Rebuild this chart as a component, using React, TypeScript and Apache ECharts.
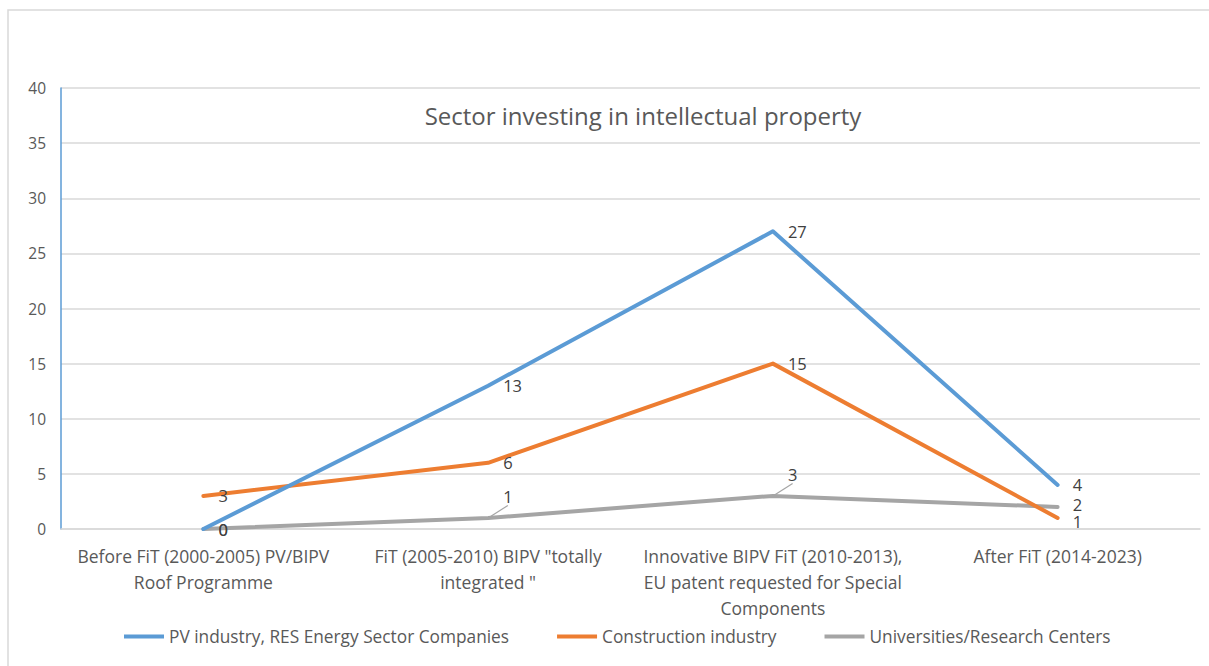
import React, { useEffect, useRef } from "react";
import * as echarts from "echarts";

const categories = [
  'Before FiT (2000-2005) PV/BIPV\nRoof Programme',
  'FiT (2005-2010) BIPV "totally\nintegrated "',
  'Innovative BIPV FiT (2010-2013),\nEU patent requested for Special\nComponents',
  'After FiT (2014-2023)',
];
const pvIndustry = [0, 13, 27, 4];
const construction = [3, 6, 15, 1];
const universities = [0, 1, 3, 2];
const seriesNames = [
  "PV industry, RES Energy Sector Companies",
  "Construction industry",
  "Universities/Research Centers",
];
const colors = ["#5b9bd5", "#ed7d31", "#a5a5a5"];
const titleText = "Sector investing in intellectual property";

const FONT = "'Open Sans', 'Noto Sans', sans-serif";

export default function App() {
  const ref = useRef<HTMLDivElement>(null);
  useEffect(() => {
    if (!ref.current) return;
    const chart = echarts.init(ref.current, undefined, { renderer: "svg" });
    const labelStyle = {
      show: true,
      position: "right" as const,
      distance: 14,
      color: "#404040",
      fontSize: 16.5,
      lineHeight: 14,
      fontFamily: FONT,
    };
    const mk = (i: number, data: any[]) => ({
      name: seriesNames[i],
      type: "line",
      data,
      symbol: "circle",
      symbolSize: 2,
      showSymbol: true,
      color: colors[i],
      itemStyle: { color: "rgba(0,0,0,0)", borderWidth: 0 },
      lineStyle: { width: 4, color: colors[i], cap: "round", join: "round" },
      label: labelStyle,
      z: 3 - i,
    });
    const uniData = universities.map((v, i) => ({
      value: v,
      labelLine: {
        show: i === 1 || i === 2,
        lineStyle: { color: colors[2], width: 1.2 },
      },
    }));
    chart.setOption({
      animation: false,
      textStyle: { fontFamily: FONT },
      graphic: [
        {
          type: "rect",
          shape: { x: 8, y: 10, width: 1400, height: 800 },
          style: { fill: "none", stroke: "#d9d9d9", lineWidth: 1.5 },
          silent: true,
        },
      ],
      title: {
        text: titleText,
        left: 638,
        top: 98,
        textAlign: "center",
        textStyle: { color: "#595959", fontSize: 24, fontWeight: "normal", fontFamily: FONT },
      },
      legend: {
        data: seriesNames.map((n, i) => ({ name: n, itemStyle: { color: colors[i], opacity: 1 } })),
        bottom: 16,
        left: 119,
        icon: "rect",
        itemWidth: 40,
        itemHeight: 4,
        itemGap: 48,
        textStyle: { color: "#595959", fontSize: 17.3, fontFamily: FONT },
      },
      grid: { left: 61, right: 9, top: 88, bottom: 137 },
      xAxis: {
        type: "category",
        data: categories,
        boundaryGap: true,
        axisLine: { show: true, lineStyle: { color: "#d9d9d9", width: 1.5 } },
        axisTick: { show: false },
        axisLabel: {
          interval: 0,
          color: "#595959",
          fontSize: 17.5,
          lineHeight: 26,
          margin: 14,
          fontFamily: FONT,
        },
      },
      yAxis: {
        type: "value",
        min: 0,
        max: 40,
        interval: 5,
        axisLine: { show: true, lineStyle: { color: "#5b9bd5", width: 1.5 } },
        axisTick: { show: false },
        axisLabel: { color: "#595959", fontSize: 15.5, margin: 15, fontFamily: FONT },
        splitLine: { lineStyle: { color: "#d9d9d9", width: 1.5 } },
      },
      series: [
        mk(0, pvIndustry),
        {
          ...mk(1, construction),
          labelLayout: (p: any) => (p.dataIndex === 3 ? { dy: 4 } : {}),
        },
        {
          ...mk(2, uniData),
          labelLayout: (p: any) =>
            p.dataIndex === 1 || p.dataIndex === 2
              ? { dy: -21, dx: 0 }
              : p.dataIndex === 3
              ? { dy: -2 }
              : {},
        },
      ],
    });
    return () => chart.dispose();
  }, []);
  return (
    <div
      ref={ref}
      style={{ position: "absolute", left: 0, top: 0, width: 1209, height: 666 }}
    />
  );
}
